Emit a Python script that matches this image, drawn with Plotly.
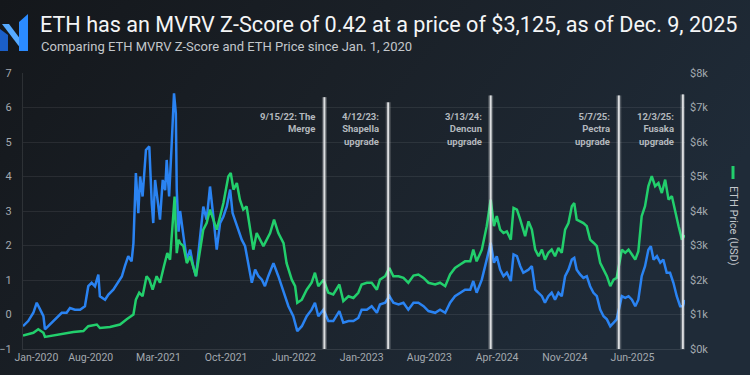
import base64
import pandas as pd
import plotly.graph_objects as go

# ---------------- data ----------------
START = "2020-01-01"

# MVRV Z-Score (left axis): day offset since Jan 1 2020, value
z_days = [0, 17, 34, 45, 56, 67, 72, 89, 110, 127, 143, 154, 170, 187, 203, 214, 225, 236, 247, 252,
          269, 280, 296, 313, 324, 334, 345, 356, 362, 370, 378, 384, 392, 403, 414, 422, 427, 433, 440, 449,
          458, 466, 471, 479, 487, 495, 501, 504, 510, 515, 526, 537, 548, 558, 567, 580, 591, 602, 613, 624,
          635, 646, 657, 668, 679, 687, 695, 706, 717, 728, 739, 750, 761, 772, 783, 793, 804, 821, 837, 854,
          870, 886, 899, 914, 930, 946, 957, 968, 985, 1001, 1017, 1037, 1050, 1067, 1083, 1099, 1110, 1127, 1143, 1160,
          1170, 1187, 1201, 1214, 1231, 1247, 1263, 1280, 1296, 1313, 1329, 1351, 1367, 1384, 1400, 1416, 1433, 1449, 1466, 1476,
          1487, 1504, 1520, 1533, 1544, 1553, 1564, 1575, 1586, 1599, 1608, 1619, 1630, 1640, 1657, 1668, 1679, 1690, 1701, 1711,
          1722, 1733, 1744, 1755, 1766, 1777, 1788, 1799, 1807, 1815, 1826, 1837, 1848, 1859, 1870, 1881, 1892, 1903, 1914, 1925,
          1936, 1946, 1963, 1974, 1985, 1996, 2007, 2017, 2028, 2039, 2050, 2058, 2067, 2078, 2089, 2099, 2110, 2121, 2132, 2143,
          2154, 2163, 2169]
z_vals = [-0.34, -0.19, 0.05, 0.34, 0.15, -0.05, -0.43, -0.29, -0.10, 0.05, 0.05, 0.19, 0.14, 0.14, 0.24, 0.82, 0.92, 0.82, 1.16, 0.53,
          0.43, 0.58, 0.72, 0.96, 1.10, 1.40, 1.69, 1.54, 2.07, 4.10, 2.94, 4.00, 3.42, 4.77, 4.87, 3.23, 2.65, 3.90, 3.42, 2.75,
          3.90, 3.60, 4.48, 3.42, 4.87, 6.41, 5.83, 3.60, 2.40, 3.00, 2.27, 1.59, 1.88, 1.40, 1.11, 2.27, 3.13, 2.75, 3.71, 2.84,
          1.88, 2.65, 2.84, 3.13, 3.62, 2.94, 2.75, 2.46, 2.17, 1.98, 1.40, 0.92, 1.30, 1.11, 1.01, 0.82, 1.11, 1.49, 1.11, 0.63,
          0.24, -0.05, -0.48, -0.34, -0.05, 0.14, 0.34, -0.05, 0.14, -0.19, -0.19, 0.10, -0.24, -0.19, -0.19, -0.10, 0.14, 0.14, 0.24, 0.05,
          0.29, 0.34, 0.53, 0.34, 0.29, 0.34, 0.14, 0.34, 0.34, 0.24, 0.10, 0.05, 0.14, 0.05, 0.34, 0.53, 0.63, 0.72, 0.72, 0.97,
          0.63, 1.01, 1.59, 2.08, 1.50, 1.69, 1.30, 1.11, 1.21, 0.97, 1.74, 1.69, 1.40, 1.21, 1.30, 1.40, 0.72, 0.63, 0.53, 0.34,
          0.53, 0.63, 0.43, 0.63, 0.53, 1.11, 1.30, 1.59, 1.64, 1.30, 1.16, 1.06, 1.11, 0.82, 0.63, 0.53, 0.14, -0.05, -0.14, -0.34,
          -0.24, -0.14, 0.53, 0.48, 0.53, 0.43, 0.24, 0.43, 1.11, 1.40, 1.88, 1.98, 1.59, 1.69, 1.50, 1.59, 1.21, 1.21, 0.92, 0.53,
          0.24, 0.24, 0.42]

# ETH price in USD (right axis): day offset since Jan 1 2020, value
p_days = [0, 34, 50, 67, 72, 99, 132, 165, 198, 214, 242, 252, 285, 318, 340, 362, 370, 381, 392, 405,
          414, 425, 438, 449, 462, 473, 482, 491, 497, 504, 510, 515, 526, 537, 548, 567, 580, 591, 602, 613,
          624, 635, 646, 657, 673, 681, 690, 701, 711, 722, 733, 744, 755, 766, 777, 788, 799, 810, 823, 837,
          854, 864, 881, 892, 899, 914, 930, 946, 957, 968, 985, 1001, 1017, 1037, 1050, 1067, 1083, 1099, 1110, 1127,
          1143, 1160, 1170, 1187, 1201, 1214, 1231, 1247, 1263, 1280, 1296, 1313, 1329, 1351, 1367, 1384, 1400, 1416, 1433, 1449,
          1466, 1476, 1487, 1504, 1520, 1533, 1544, 1553, 1564, 1575, 1586, 1599, 1608, 1619, 1630, 1646, 1657, 1668, 1679, 1690,
          1701, 1711, 1722, 1733, 1744, 1755, 1766, 1777, 1788, 1799, 1807, 1815, 1826, 1837, 1848, 1859, 1870, 1881, 1892, 1903,
          1914, 1925, 1936, 1946, 1963, 1974, 1985, 1996, 2007, 2017, 2028, 2039, 2050, 2061, 2072, 2083, 2094, 2105, 2116, 2127,
          2138, 2149, 2160, 2169]
p_vals = [390, 470, 570, 470, 350, 390, 450, 490, 520, 660, 710, 610, 640, 710, 860, 1000, 1430, 1630, 1530, 2110,
          2010, 1720, 2110, 1920, 2400, 2780, 2590, 3750, 4420, 2780, 3170, 3070, 2980, 2490, 2690, 2110, 2780, 3460, 3650, 4040,
          3750, 3460, 3840, 4230, 5000, 5100, 4620, 4810, 4330, 4040, 4130, 3560, 2880, 3360, 3170, 2980, 3170, 3360, 3750, 3360,
          3070, 2490, 2010, 1820, 1340, 1430, 1720, 1920, 2210, 1820, 2010, 1630, 1580, 1870, 1390, 1530, 1480, 1630, 1870, 1920,
          1920, 1720, 2010, 2110, 2350, 2110, 2110, 2060, 1920, 2130, 2160, 2060, 1920, 1870, 1920, 1820, 2160, 2350, 2450, 2540,
          2540, 2880, 2540, 2880, 3560, 4330, 3560, 3850, 3460, 3360, 3410, 3170, 4090, 4040, 3750, 3270, 3700, 3460, 2880, 2690,
          2880, 2590, 2790, 2880, 2690, 2930, 2790, 3460, 3650, 4140, 4230, 3750, 3700, 3650, 3560, 3170, 3080, 2980, 2500, 2300,
          2110, 1820, 2010, 2060, 2880, 2790, 2880, 2740, 2590, 2830, 3850, 4140, 4720, 5010, 4720, 4810, 4520, 4910, 4330, 4430,
          3940, 3560, 3170, 3300]

# upgrade events
event_dates = ["2022-09-15", "2023-04-12", "2024-03-13", "2025-05-07", "2025-12-03"]
event_labels = ["9/15/22: The<br>Merge", "4/12/23:<br>Shapella<br>upgrade", "3/13/24:<br>Dencun<br>upgrade",
                "5/7/25:<br>Pectra<br>upgrade", "12/3/25:<br>Fusaka<br>upgrade"]

# x ticks
x_tick_dates = ["2020-02-14", "2020-08-10", "2021-03-20", "2021-10-28", "2022-06-07", "2023-01-15",
                "2023-08-25", "2024-04-03", "2024-11-11", "2025-06-21"]
x_tick_labels = ["Jan-2020", "Aug-2020", "Mar-2021", "Oct-2021", "Jun-2022", "Jan-2023",
                 "Aug-2023", "Apr-2024", "Nov-2024", "Jun-2025"]
z_ticks = [-1, 0, 1, 2, 3, 4, 5, 6, 7]
price_ticks = [0, 1000, 2000, 3000, 4000, 5000, 6000, 7000, 8000]
price_tick_labels = ["$0k", "$1k", "$2k", "$3k", "$4k", "$5k", "$6k", "$7k", "$8k"]

title_text = "ETH has an MVRV Z-Score of 0.42 at a price of $3,125, as of Dec. 9, 2025"
subtitle_text = "Comparing ETH MVRV Z-Score and ETH Price since Jan. 1, 2020"

# ---------------- figure ----------------
W, H = 750, 375
ML, MR, MT, MB = 23, 65, 73, 26
PW, PH = W - ML - MR, H - MT - MB

def px(xp):
    return (xp - ML) / PW

def py(yp):
    return (H - MB - yp) / PH

start = pd.Timestamp(START)
z_dates = start + pd.to_timedelta(z_days, unit="D")
p_dates = start + pd.to_timedelta(p_days, unit="D")

BLUE = "#2a83f2"
GREEN = "#22cf6c"
TICK = "#a3a9af"
FONT = "Roboto"

fig = go.Figure()
fig.add_trace(go.Scatter(x=z_dates, y=z_vals, mode="lines", name="MVRV Z-Score",
                         line=dict(color=BLUE, width=2.5), yaxis="y"))
fig.add_trace(go.Scatter(x=p_dates, y=p_vals, mode="lines", name="ETH Price (USD)",
                         line=dict(color=GREEN, width=2.5), yaxis="y2"))

svg = ('<svg xmlns="http://www.w3.org/2000/svg" width="750" height="375" preserveAspectRatio="none">'
       '<defs><linearGradient id="g" x1="0" y1="0" x2="1" y2="0.4">'
       '<stop offset="0" stop-color="#14171b"/><stop offset="0.45" stop-color="#1a2027"/>'
       '<stop offset="1" stop-color="#1f2b38"/></linearGradient></defs>'
       '<rect width="750" height="375" fill="url(#g)"/></svg>')
src = "data:image/svg+xml;base64," + base64.b64encode(svg.encode()).decode()

shapes = []
annotations = []
line_tops = [6.3, 6.15, 6.35, 6.35, 6.38]
for d, lab, top in zip(event_dates, event_labels, line_tops):
    shapes.append(dict(type="line", xref="x", yref="y", x0=d, x1=d, y0=-1, y1=top,
                       line=dict(color="rgba(255,255,255,0.22)", width=5)))
    shapes.append(dict(type="line", xref="x", yref="y", x0=d, x1=d, y0=-1, y1=top,
                       line=dict(color="#dcdee0", width=2)))
    annotations.append(dict(x=d, y=5.95, xref="x", yref="y", text=lab, showarrow=False,
                            xanchor="right", yanchor="top", align="right", xshift=-7,
                            font=dict(family=FONT, size=9.5, color="#b3b8bd", weight="bold")))

# logo (pixel coords)
def path(pts):
    return "M " + " L ".join(f"{px(a):.5f},{py(b):.5f}" for a, b in pts) + " Z"

shapes.append(dict(type="path", xref="paper", yref="paper", path=path([(0, 29), (8, 35), (8, 51), (0, 51)]),
                   fillcolor="#1b5fc8", line=dict(width=0), layer="above"))
shapes.append(dict(type="path", xref="paper", yref="paper", path=path([(2, 24), (9, 24), (21, 40), (21, 49)]),
                   fillcolor="#56aaff", line=dict(width=0), layer="above"))
shapes.append(dict(type="path", xref="paper", yref="paper", path=path([(19, 22), (28, 14), (28, 51), (19, 51)]),
                   fillcolor="#2b8bff", line=dict(width=0), layer="above"))
# legend marker for right axis title
shapes.append(dict(type="line", xref="paper", yref="paper", x0=px(733), x1=px(733), y0=py(166), y1=py(179),
                   line=dict(color=GREEN, width=3)))

annotations.append(dict(x=px(38), y=py(25), xref="paper", yref="paper", text=title_text, showarrow=False,
                        xanchor="left", yanchor="middle", font=dict(family=FONT, size=21.6, color="#f4f5f6")))
annotations.append(dict(x=px(39), y=py(46), xref="paper", yref="paper", text=subtitle_text, showarrow=False,
                        xanchor="left", yanchor="middle", font=dict(family=FONT, size=13, color="#c3c7cb")))
annotations.append(dict(x=px(734), y=py(226), xref="paper", yref="paper", text="ETH Price (USD)", showarrow=False,
                        textangle=90, xanchor="center", yanchor="middle",
                        font=dict(family=FONT, size=11, color="#c3c7cb")))

fig.update_layout(
    width=W, height=H,
    margin=dict(l=ML, r=MR, t=MT, b=MB, pad=0, autoexpand=False),
    paper_bgcolor="#1a2027",
    plot_bgcolor="rgba(0,0,0,0)",
    showlegend=False,
    images=[dict(source=src, xref="paper", yref="paper", x=-ML / PW, y=1 + MT / PH,
                 sizex=W / PW, sizey=H / PH, sizing="stretch", xanchor="left", yanchor="top",
                 layer="below")],
    shapes=shapes,
    annotations=annotations,
    xaxis=dict(type="date", range=["2020-01-01", "2025-12-10"], tickvals=x_tick_dates,
               ticktext=x_tick_labels, showgrid=False, zeroline=False, ticks="", automargin=False,
               showline=True, linecolor="rgba(255,255,255,0.10)", linewidth=1, ticklabelstandoff=-2,
               tickfont=dict(family=FONT, size=10.5, color=TICK)),
    yaxis=dict(range=[-1, 7], tickvals=z_ticks, showgrid=True, gridcolor="rgba(255,255,255,0.08)",
               gridwidth=1, zeroline=False, ticks="", showline=True, automargin=False,
               linecolor="rgba(255,255,255,0.10)", ticklabelstandoff=8,
               tickfont=dict(family=FONT, size=11, color=TICK)),
    yaxis2=dict(range=[0, 8000], overlaying="y", side="right", tickvals=price_ticks,
                ticktext=price_tick_labels, showgrid=False, zeroline=False, ticks="", automargin=False,
                ticklabelstandoff=4, tickfont=dict(family=FONT, size=11, color=TICK)),
)

fig.write_html("out.html", config={"displayModeBar": False},
               post_script="document.body.style.margin='0';document.body.style.overflow='hidden';")
